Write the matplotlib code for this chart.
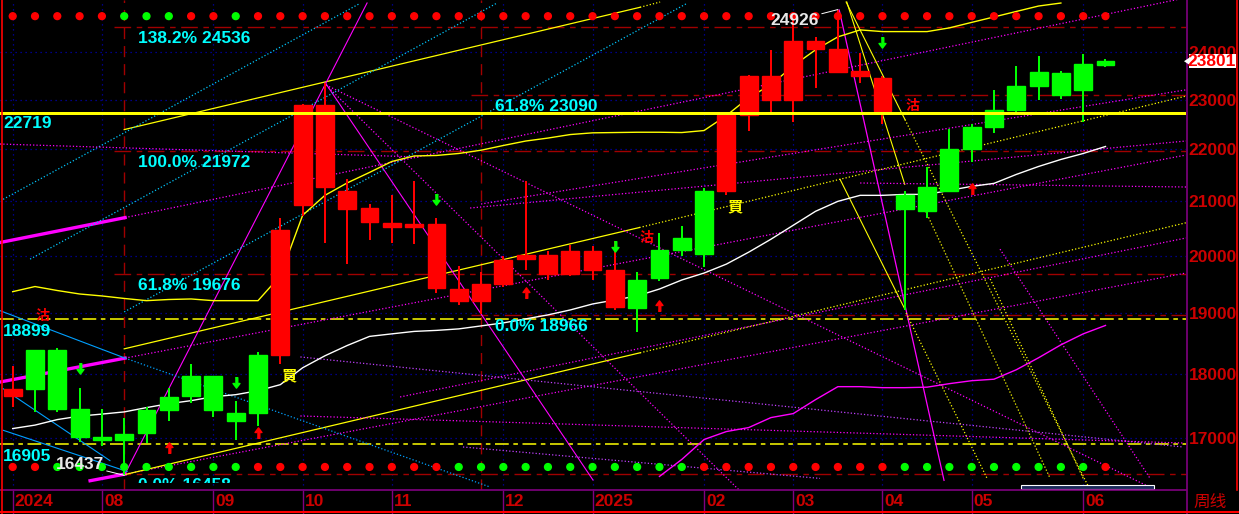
import numpy as np
import matplotlib.pyplot as plt
import matplotlib.transforms as mtransforms
from matplotlib.ticker import NullLocator
from matplotlib.patches import Rectangle, Polygon
from matplotlib.lines import Line2D

plt.rcParams['font.family'] = ['Liberation Sans', 'Noto Sans CJK SC', 'DejaVu Sans']

# ---- weekly candles, index 0 = first week on screen ----
opens  = [17640, 18380, 18380, 17440, 17010, 17060, 17420, 17630, 17960, 17960,
          17380, 18300, 18300, 20925, 21275, 20850, 20620, 20530, 20530, 19430,
          19210, 19210, 19510, 19940, 19680, 19680, 19750, 19110, 19580, 20100,
          20330, 21200, 21200, 22680, 22990, 22990, 24070, 23570, 23480, 22770,
          21120, 21270, 22000, 22440, 22780, 23270, 23570, 23550, 23740, 23801]
closes = [17750, 17750, 17440, 17010, 16960, 16960, 17065, 17430, 17640, 17430,
          17260, 17380, 20470, 22880, 22880, 21190, 20870, 20600, 20580, 20580,
          19420, 19510, 19920, 20010, 20010, 20080, 20080, 19750, 19090, 19610,
          20100, 20040, 22680, 23480, 23480, 24230, 24230, 24060, 23600, 23440,
          20850, 20820, 21200, 22000, 22440, 22780, 23270, 23100, 23190, 23720]
highs  = [18120, 18390, 18420, 17770, 17440, 17300, 17470, 17770, 18160, 17960,
          17570, 18360, 20690, 22900, 23350, 21430, 20945, 21110, 21390, 20690,
          19820, 19720, 20000, 21390, 20080, 20200, 20180, 20260, 19720, 20420,
          20540, 21250, 22680, 23500, 24040, 24860, 24320, 24926, 23970, 23490,
          21200, 21650, 22400, 22500, 23190, 23690, 23910, 23590, 23960, 23840]
lows   = [17480, 17400, 17390, 16930, 16880, 16437, 16920, 17260, 17530, 17310,
          16960, 17180, 18160, 20720, 20240, 19860, 20290, 20240, 20220, 19350,
          19140, 18990, 19450, 19750, 19570, 19640, 19570, 19050, 18690, 19560,
          20000, 19800, 21120, 22370, 22750, 22540, 23230, 23560, 23350, 22510,
          19050, 20690, 21200, 21750, 22330, 22730, 23000, 23020, 22540, 23680]

# moving averages
ma_white = [17139, 17192, 17277, 17331, 17362, 17396, 17463, 17525, 17572, 17634,
            17666, 17729, 17825, 18096, 18291, 18460, 18611, 18653, 18694, 18711,
            18736, 18786, 18837, 18904, 18972, 19056, 19158, 19227, 19296, 19416,
            19573, 19695, 19853, 20066, 20300, 20555, 20813, 20999, 21112, 21112,
            21130, 21130, 21206, 21282, 21339, 21510, 21664, 21800, 21917, 22054]
ma_yellow = [19370, 19459, 19390, 19330, 19296, 19253, 19215, 19235, 19244, 19215,
             19215, 19215, 19648, 20739, 21112, 21348, 21549, 21761, 21868, 21878,
             21917, 21981, 22074, 22162, 22221, 22291, 22325, 22331, 22337, 22337,
             22331, 22371, 22672, 23038, 23306, 23704, 24045, 24325, 24477, 24440,
             24440, 24440, 24521, 24642, 24762, 24884, 25005, 25072]
ma_magenta_start = 29
ma_magenta = [16421, 16672, 16972, 17093, 17154, 17308, 17370, 17588, 17793, 17793,
              17777, 17777, 17785, 17841, 17888, 17912, 18064, 18259, 18471, 18653,
              18794]

# signal dots: r / g
top_dots    = list('rrrrrggg' + 'rrg' + 'r' * 39)
bottom_dots = list('rr' + 'g' * 9 + 'r' * 9 + 'g' * 11 + 'r' * 9 + 'g' * 9 + 'r')

# horizontal levels
level_main = 22719
level_dash = [18899, 16905]
fib_left = [(138.2, 24536), (100.0, 21972), (61.8, 19676), (0.0, 16458)]
fib_right = [(61.8, 23090), (0.0, 18966)]
fib_left_start, fib_right_start = 4.55, 20.55
vline_weeks = [5, 21]

# month axis
month_weeks  = [0, 4, 9, 13, 17, 22, 26, 31, 35, 39, 43, 48]
month_labels = ['2024', '08', '09', '10', '11', '12', '2025', '02', '03', '04', '05', '06']
price_ticks  = [17000, 18000, 19000, 20000, 21000, 22000, 23000, 24000]
last_price = 23801

# signals
sell_arrow_weeks  = [3, 10, 19, 27, 39]
sell_arrow_prices = [18076, 17851, 21024, 20159, 24185]
buy_arrow_weeks   = [7, 11, 23, 29, 43]
buy_arrow_prices  = [16863, 17091, 19369, 19140, 21257]
buy_text_weeks    = [12.4, 32.4]
buy_text_prices   = [17980, 20911]
sell_text_weeks   = [1.35, 28.4, 40.35]
sell_text_prices  = [18960, 20328, 22867]

# trend lines: (week0, price0, week1, price1, color, style, width)
MAG, YEL, PUR = '#ff00ff', '#ffff00', '#c040ff'
trend_lines = [
    # magenta channel (thick part + extensions)
    (-0.57, 20240, 5.04, 20696, MAG, '-', 2.4),
    (-0.57, 17867, 5.04, 18253, MAG, '-', 2.4),
    (3.47, 16358, 5.04, 16456, MAG, '-', 2.4),
    (5.04, 20696, 52.6, 25190, MAG, ':', 0.9),
    (5.04, 18253, 52.6, 21886, MAG, ':', 0.9),
    (5.04, 16456, 52.6, 19695, MAG, ':', 0.9),
    # yellow channel
    (5.0, 22390, 28.13, 24977, YEL, '-', 0.9),
    (28.13, 24977, 29.03, 25095, YEL, ':', 0.9),
    (5.0, 18405, 28.1, 20513, YEL, '-', 0.9),
    (28.1, 20513, 52.6, 23070, YEL, ':', 0.9),
    (5.0, 16446, 28.13, 18340, YEL, '-', 0.9),
    (28.13, 18340, 52.6, 20600, YEL, ':', 0.9),
    # steep swing lines
    (5.0, 16436, 15.89, 25073, MAG, '-', 0.8),
    (14.01, 23350, 26.02, 16368, MAG, '-', 0.8),
    (37.06, 24917, 41.76, 16363, MAG, '-', 0.9),
    (37.4, 25095, 40.0, 21320, YEL, '-', 0.8),
    (37.1, 21415, 40.0, 19073, YEL, '-', 0.8),
    (37.37, 25095, 40.01, 22591, YEL, '-', 0.8),
    (40.01, 22591, 48.31, 16223, YEL, ':', 0.9),
    (40.06, 19004, 43.69, 16392, YEL, ':', 0.9),
    (40.69, 21037, 46.52, 16392, YEL, ':', 0.9),
    (43.83, 19590, 48.0, 16392, YEL, ':', 0.9),
    (44.27, 20120, 51.0, 16392, MAG, ':', 0.9),
    (14.05, 23300, 51.0, 16262, MAG, ':', 0.9),
    (14.05, 23300, 32.57, 16223, MAG, ':', 0.9),
    # cyan lines on the left
    (-0.57, 19044, 5.04, 18253, '#00a0ff', '-', 0.8),
    (-0.43, 17761, 4.36, 16655, '#00a0ff', '-', 0.8),
    (-0.43, 17113, 5.13, 16494, '#00a0ff', '-', 0.8),
    (5.04, 18253, 21.4, 16267, '#00a0ff', ':', 0.9),
    (-0.43, 21037, 15.58, 25066, '#00c8ff', ':', 0.9),
    (0.78, 19942, 21.72, 25073, '#00c8ff', ':', 0.9),
    (5.0, 19023, 30.24, 25066, '#00c8ff', ':', 0.9),
    # other dotted fan lines
    (20.51, 20874, 52.61, 22163, MAG, ':', 0.9),
    (38.0, 21346, 52.61, 21270, MAG, ':', 0.9),
    (-0.57, 22103, 18.27, 21848, MAG, ':', 0.9),
    (17.37, 17630, 52.61, 20322, MAG, ':', 0.9),
    (12.9, 18272, 52.48, 16859, PUR, ':', 0.9),
    (12.9, 17333, 52.48, 16919, MAG, ':', 0.9),
    (20.19, 16859, 36.2, 16392, PUR, ':', 0.9),
    (21.0, 20949, 52.61, 23200, MAG, ':', 0.9),
]

PX = 0.72  # points per pixel at dpi 100
RED, GREEN = '#ff0000', '#00ff00'
CYAN = '#00ffff'
AXRED = '#cc0000'

fig = plt.figure(figsize=(12.39, 5.14), dpi=100, facecolor='black')
ax = fig.add_axes([0, 24 / 514, 1186 / 1239, 490 / 514], facecolor='black')
ax.set_yscale('log')
ax.set_xlim(-0.5695, 52.61)
ax.set_ylim(16223, 25140)
ax.yaxis.set_minor_locator(NullLocator())
for s in ax.spines.values():
    s.set_visible(False)
xdata_yaxes = mtransforms.blended_transform_factory(ax.transData, ax.transAxes)

# grid
for p in price_ticks:
    ax.axhline(p, color='#0000b0', lw=0.9, ls=(0, (1, 3)), zorder=1)
for w in month_weeks:
    ax.axvline(w, color='#0000b0', lw=0.9, ls=(0, (1, 3)), zorder=1)

# fib levels and vertical markers
dred = '#a00000'
inner_clip = mtransforms.TransformedBbox(mtransforms.Bbox([[0, 7 / 490], [1, 1]]), ax.transAxes)
for pct, val in fib_left:
    ax.plot([fib_left_start, 52.61], [val, val], color=dred, lw=1, ls=(0, (12, 4, 4, 4)), zorder=2)
    t = ax.annotate(f'{pct:.1f}% {val}', (5.62, val), xytext=(0, -3), textcoords='offset points',
                    color=CYAN, fontsize=12.5, fontweight='bold', va='top', ha='left', zorder=8)
    t.set_clip_box(inner_clip)
    t.set_clip_on(True)
for pct, val in fib_right:
    ax.plot([fib_right_start, 52.61], [val, val], color=dred, lw=1, ls=(0, (12, 4, 4, 4)), zorder=2)
    ax.annotate(f'{pct:.1f}% {val}', (21.64, val), xytext=(0, -3), textcoords='offset points',
                color=CYAN, fontsize=12.5, fontweight='bold', va='top', ha='left', zorder=8)
for w in vline_weeks:
    ax.axvline(w, color=dred, lw=1, ls=(0, (8, 5)), zorder=2)

# horizontal support / resistance
ax.axhline(level_main, color=YEL, lw=3 * PX, zorder=6)
ax.annotate(f'{level_main}', (-0.435, level_main), xytext=(0, -2), textcoords='offset points',
            color=CYAN, fontsize=12.5, fontweight='bold', va='top', ha='left', zorder=8)
for val in level_dash:
    ax.axhline(val, color=YEL, lw=1.1, ls=(0, (9, 3, 3, 3)), zorder=3)
    ax.annotate(f'{val}', (-0.435, val), xytext=(0, -3.5), textcoords='offset points',
                color=CYAN, fontsize=12.5, fontweight='bold', va='top', ha='left', zorder=8)

# trend lines
for w0, p0, w1, p1, c, ls, lw in trend_lines:
    ax.plot([w0, w1], [p0, p1], color=c, ls=ls, lw=lw, zorder=3)

# moving averages
ax.plot(range(len(ma_white)), ma_white, color='white', lw=1, zorder=4)
ax.plot(range(len(ma_yellow)), ma_yellow, color=YEL, lw=1, zorder=4)
ax.plot(range(ma_magenta_start, ma_magenta_start + len(ma_magenta)), ma_magenta,
        color=MAG, lw=1, zorder=4)

# candles
wk = np.arange(len(opens))
o, c, h, l = map(np.array, (opens, closes, highs, lows))
up = c >= o
cols = np.where(up, RED, GREEN)
ax.vlines(wk, l, h, colors=cols, lw=2 * PX, zorder=5)
ax.bar(wk, np.abs(c - o), bottom=np.minimum(o, c), width=0.8, color=cols,
       edgecolor=cols, linewidth=1, zorder=5)

# signal dots
ax.scatter(wk, [0.967] * len(wk), transform=xdata_yaxes, s=24,
           c=[RED if d == 'r' else GREEN for d in top_dots], zorder=7)
ax.scatter(wk, [0.047] * len(wk), transform=xdata_yaxes, s=24,
           c=[RED if d == 'r' else GREEN for d in bottom_dots], zorder=7)

# arrows
down_arrow = [(-0.22, 1), (0.22, 1), (0.22, 0), (0.6, 0), (0, -0.8), (-0.6, 0), (-0.22, 0)]
up_arrow = [(x, -y) for x, y in down_arrow]
ax.scatter(sell_arrow_weeks, sell_arrow_prices, marker=down_arrow, s=70, color=GREEN, zorder=7)
ax.scatter(buy_arrow_weeks, buy_arrow_prices, marker=up_arrow, s=70, color=RED, zorder=7)
for w, p in zip(buy_text_weeks, buy_text_prices):
    ax.text(w, p, '買', color=YEL, fontsize=11, ha='center', va='center',
            family=['Noto Sans CJK TC'], fontweight='bold', zorder=8)
for w, p in zip(sell_text_weeks, sell_text_prices):
    ax.text(w, p, '沽', color=RED, fontsize=10, ha='center', va='center',
            family=['Noto Sans CJK TC'], fontweight='bold', zorder=8)

# extreme labels
ax.annotate(f'{max(highs)}', (37, max(highs)), xytext=(-31, -8), textcoords='offset points',
            color='#e8e8e8', fontsize=12.5, fontweight='bold', ha='center', va='center',
            arrowprops=dict(arrowstyle='-', color='white', lw=0.7, shrinkA=0, shrinkB=0), zorder=9)
ax.annotate(f'{min(lows)}', (5, min(lows)), xytext=(-32, 8), textcoords='offset points',
            color='#e8e8e8', fontsize=12.5, fontweight='bold', ha='center', va='center',
            arrowprops=dict(arrowstyle='-', color='white', lw=0.7, shrinkA=0, shrinkB=0), zorder=9)

# right price axis
ax.yaxis.tick_right()
ax.set_yticks(price_ticks, [str(p) for p in price_ticks])
ax.tick_params(axis='y', length=0, pad=2, labelcolor=AXRED, labelsize=12.5)
for t in ax.get_yticklabels():
    t.set_fontweight('bold')

# month axis
ax.set_xticks(month_weeks, month_labels)
ax.tick_params(axis='x', length=0, pad=3, labelcolor=AXRED, labelsize=12.5)
offset = mtransforms.ScaledTranslation(2 / 100, 0, fig.dpi_scale_trans)
for t in ax.get_xticklabels():
    t.set_fontweight('bold')
    t.set_ha('left')
    t.set_transform(t.get_transform() + offset)
ax.vlines(month_weeks, -0.049, 0, transform=xdata_yaxes, colors='#800080', lw=1, clip_on=False)

# frame lines
fig.add_artist(Line2D([0, 1186 / 1239], [24 / 514, 24 / 514], color='#800080', lw=1.2))
fig.add_artist(Line2D([1186.5 / 1239, 1186.5 / 1239], [0, 1], color='#800080', lw=1.2))
fig.add_artist(Line2D([0, 1], [2 / 514, 2 / 514], color=RED, lw=1.5))
fig.add_artist(Line2D([1.5 / 1239, 1.5 / 1239], [0, 1], color=RED, lw=1.2))
fig.add_artist(Line2D([1236.5 / 1239, 1236.5 / 1239], [24 / 514, 1], color=RED, lw=1.2))
fig.text(1210 / 1239, 12 / 514, '周线', color=AXRED, fontsize=12,
         family=['Noto Sans CJK SC'], ha='center', va='center')

# scroll bar
fig.add_artist(Rectangle((1021 / 1239, 25 / 514), 133 / 1239, 4 / 514, facecolor='#1a2a5a',
                         edgecolor='white', lw=0.8))

# last price tag
tag_y = ax.transData.transform((0, last_price))[1] / fig.bbox.height
fig.add_artist(Rectangle((1189 / 1239, tag_y - 7 / 514), 47 / 1239, 14 / 514,
                         facecolor='white', edgecolor='none', zorder=10))
fig.add_artist(Polygon([(1184 / 1239, tag_y), (1190 / 1239, tag_y + 4 / 514),
                        (1190 / 1239, tag_y - 4 / 514)], closed=True,
                       facecolor='white', edgecolor='none', zorder=10))
fig.text(1212 / 1239, tag_y, f'{last_price}', color=RED, fontsize=12.5, fontweight='bold',
         ha='center', va='center', zorder=11)

fig.savefig('out.png', dpi=100, facecolor='black')
